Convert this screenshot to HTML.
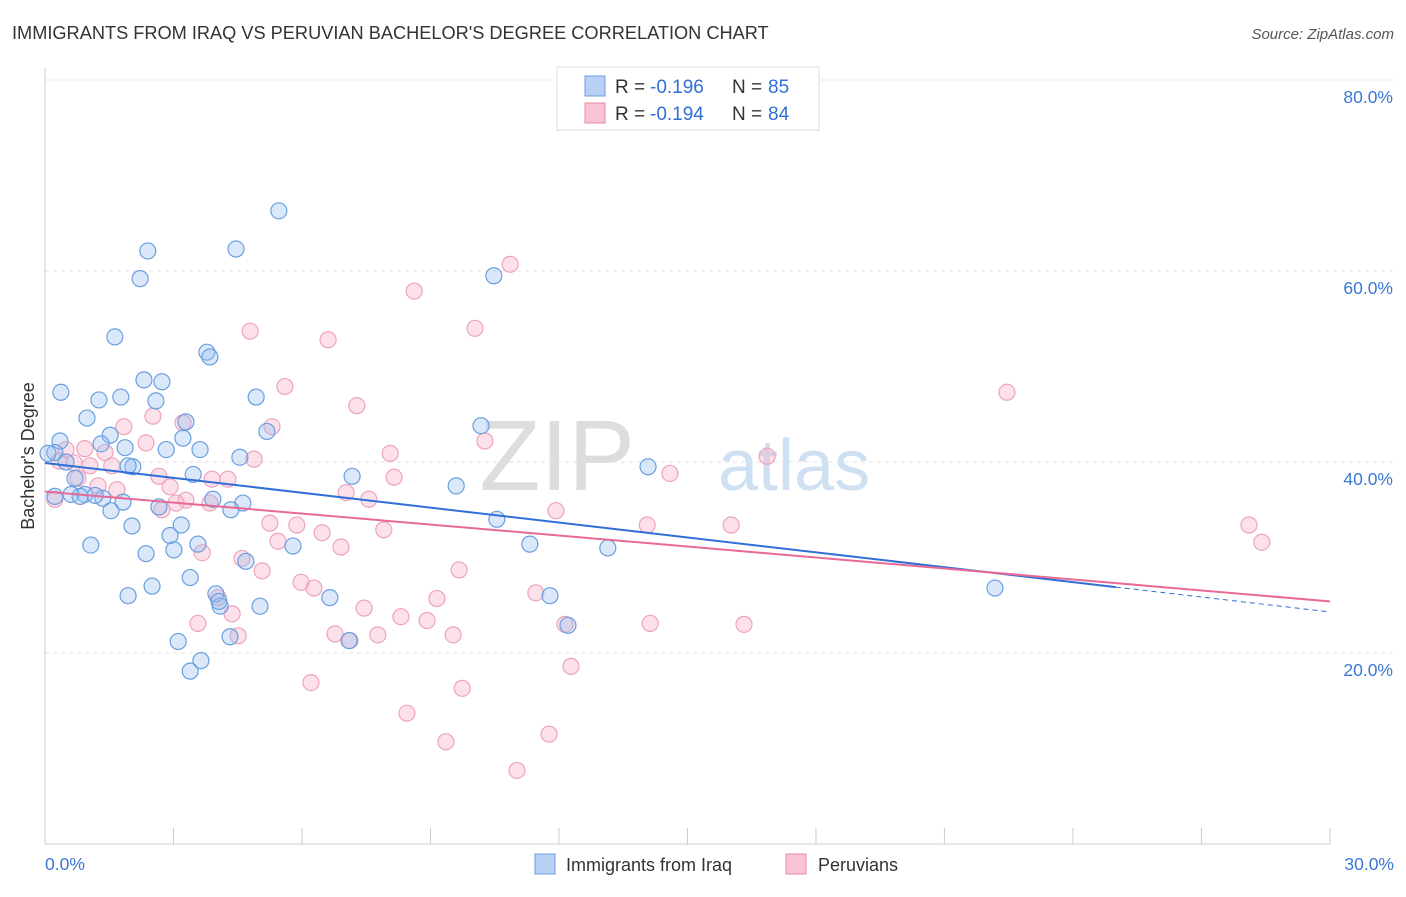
<!DOCTYPE html>
<html><head><meta charset="utf-8"><style>
body{margin:0;background:#fff;font-family:"Liberation Sans",sans-serif;}
svg text{font-family:"Liberation Sans",sans-serif;}
</style></head><body>
<svg id="chart" width="1406" height="892">
<text x="12" y="39" font-size="18.2" fill="#333">IMMIGRANTS FROM IRAQ VS PERUVIAN BACHELOR'S DEGREE CORRELATION CHART</text>
<text x="1394" y="39" font-size="15" fill="#555" text-anchor="end" font-style="italic">Source: ZipAtlas.com</text>
<text x="635" y="490" font-size="100" fill="#ddd" text-anchor="end" font-family="Liberation Serif">ZIP</text>
<text x="718" y="490" font-size="72" fill="#cfe0f3">atlas</text>
<g id="grid"></g><g id="axes"></g><g id="pts"></g><g id="trend"></g>
<text x="34" y="456" font-size="18" fill="#333" text-anchor="middle" transform="rotate(-90 34 456)">Bachelor's Degree</text>
<g>
<rect x="557" y="67" width="262" height="63" fill="#fff" stroke="#ddd"/>
<rect x="585" y="76" width="20" height="20" fill="#b7d0f3" stroke="#6a9fe0"/>
<rect x="585" y="103" width="20" height="20" fill="#f8c4d4" stroke="#e88aa8"/>
<text x="615" y="93" font-size="19" fill="#333">R =</text>
<text x="650" y="93" font-size="19" fill="#2f6fd6">-0.196</text>
<text x="732" y="93" font-size="19" fill="#333">N =</text>
<text x="768" y="93" font-size="19" fill="#2f6fd6">85</text>
<text x="615" y="120" font-size="19" fill="#333">R =</text>
<text x="650" y="120" font-size="19" fill="#2f6fd6">-0.194</text>
<text x="732" y="120" font-size="19" fill="#333">N =</text>
<text x="768" y="120" font-size="19" fill="#2f6fd6">84</text>
</g>
<g>
<rect x="535" y="854" width="20" height="20" fill="#b7d0f3" stroke="#6a9fe0"/>
<text x="566" y="871" font-size="18" fill="#333">Immigrants from Iraq</text>
<rect x="786" y="854" width="20" height="20" fill="#f8c4d4" stroke="#e88aa8"/>
<text x="818" y="871" font-size="18" fill="#333">Peruvians</text>
</g>
</svg>
<script>
const blueX=[5.46,4.46,2.40,2.22,10.48,1.63,3.78,3.85,2.31,2.73,0.37,1.26,1.77,2.59,4.93,0.98,3.29,10.18,5.18,1.52,3.22,0.35,1.31,3.62,2.83,1.87,0.23,4.55,0.07,0.49,2.05,1.94,14.08,3.46,7.17,0.70,9.60,0.23,0.61,0.93,0.82,1.35,1.17,1.82,3.92,4.62,4.34,1.54,2.66,10.55,3.18,2.03,2.92,3.57,1.07,2.36,3.01,5.79,11.32,13.14,4.69,3.39,2.50,1.94,3.99,6.65,11.79,4.09,5.02,12.21,4.32,7.10,3.11,3.64,3.39,22.18,4.06];
const blueY=[66.3,62.3,62.1,59.2,59.5,53.1,51.5,51.0,48.6,48.4,47.3,46.5,46.8,46.4,46.8,44.6,44.2,43.8,43.2,42.8,42.5,42.2,41.9,41.3,41.3,41.5,41.0,40.5,40.9,40.0,39.5,39.6,39.5,38.7,38.5,38.3,37.5,36.4,36.6,36.6,36.4,36.2,36.5,35.8,36.1,35.7,35.0,34.9,35.3,34.0,33.4,33.3,32.3,31.4,31.3,30.4,30.8,31.2,31.4,31.0,29.6,27.9,27.0,26.0,26.2,25.8,26.0,24.9,24.9,22.9,21.7,21.3,21.2,19.2,18.1,26.8,25.4];
const pinkX=[10.86,8.62,10.04,4.79,6.61,5.60,7.28,22.46,2.52,1.84,3.22,5.30,10.27,0.49,0.93,2.36,8.06,16.86,1.40,4.88,0.33,0.68,1.56,1.05,0.77,14.59,2.66,3.90,4.27,1.24,2.92,8.15,7.03,1.68,7.56,3.29,3.85,3.06,0.23,2.73,11.93,5.25,5.88,7.91,14.06,16.02,28.11,28.41,6.47,5.44,6.91,3.67,4.60,5.07,9.67,5.98,6.28,9.15,11.46,4.04,7.45,3.57,4.37,8.31,8.92,6.77,7.77,9.53,14.13,16.32,12.14,4.51,7.12,12.28,6.21,9.74,8.45,9.36,11.77,11.02];
const pinkY=[60.7,57.9,54.0,53.7,52.8,47.9,45.9,47.3,44.8,43.7,44.1,43.7,42.2,41.3,41.4,42.0,40.9,40.6,41.0,40.3,40.1,39.9,39.6,39.6,38.3,38.8,38.5,38.2,38.2,37.5,37.4,38.4,36.8,37.1,36.1,36.0,35.7,35.7,36.1,35.0,34.9,33.6,33.4,32.9,33.4,33.4,33.4,31.6,32.6,31.7,31.1,30.5,29.9,28.6,28.7,27.4,26.8,25.7,26.3,25.8,24.7,23.1,24.1,23.8,23.4,22.0,21.9,21.9,23.1,23.0,23.0,21.8,21.3,18.6,16.9,16.3,13.7,10.7,11.5,7.7];
const yTicks=[20,40,60,80];
const xTickLabels=["0.0%","30.0%"];
const blueTrend=[39.9,24.3];
const pinkTrend=[36.9,25.4];
const NS="http://www.w3.org/2000/svg";
const sx=v=>45+v*42.83, sy=v=>844-v*9.55;
function mk(t,a,p){const e=document.createElementNS(NS,t);for(const k in a)e.setAttribute(k,a[k]);document.getElementById(p).appendChild(e);return e;}
yTicks.forEach(t=>{
 const g=mk('line',{x1:45,x2:1395,y1:sy(t),y2:sy(t),stroke:'#e2e2e2','stroke-dasharray':'4,4'},'grid');
 
 
 const l=mk('text',{x:1393,y:sy(t)+23,'font-size':17.5,fill:'#3a78d4','text-anchor':'end'},'axes');
 l.textContent=t.toFixed(1)+'%';
 
 
});
const ya=mk('line',{x1:45,x2:45,y1:68,y2:844,stroke:'#ccc'},'axes');


const xa=mk('line',{x1:45,x2:1330,y1:844,y2:844,stroke:'#ccc'},'axes');


for(let i=0;i<=10;i++){const t=mk('line',{x1:sx(i*3),x2:sx(i*3),y1:828,y2:844,stroke:'#ccc'},'axes');
 
 }
const l0=mk('text',{x:45,y:870,'font-size':17.5,fill:'#3a78d4'},'axes');l0.textContent=xTickLabels[0];


const l1=mk('text',{x:1394,y:870,'font-size':17.5,fill:'#3a78d4','text-anchor':'end'},'axes');l1.textContent=xTickLabels[1];


pinkX.forEach((x,i)=>{const c=mk('circle',{cx:sx(x),cy:sy(pinkY[i]),r:8,fill:'rgba(245,170,195,0.35)',stroke:'#eea3bc','stroke-width':1.2},'pts');
 
 });
blueX.forEach((x,i)=>{const c=mk('circle',{cx:sx(x),cy:sy(blueY[i]),r:8,fill:'rgba(150,190,240,0.35)',stroke:'#6a9fe0','stroke-width':1.2},'pts');
 
 });
const bAt=x=>blueTrend[0]+(blueTrend[1]-blueTrend[0])*x/30;
const bt=mk('line',{x1:sx(0),y1:sy(bAt(0)),x2:sx(25),y2:sy(bAt(25)),stroke:'#2f6fd6','stroke-width':2},'trend');


const bd=mk('line',{x1:sx(25),y1:sy(bAt(25)),x2:sx(30),y2:sy(bAt(30)),stroke:'#2f6fd6','stroke-width':1,'stroke-dasharray':'5,4'},'trend');


const pt=mk('line',{x1:sx(0),y1:sy(pinkTrend[0]),x2:sx(30),y2:sy(pinkTrend[1]),stroke:'#e86a94','stroke-width':2},'trend');


</script>
</body></html>
